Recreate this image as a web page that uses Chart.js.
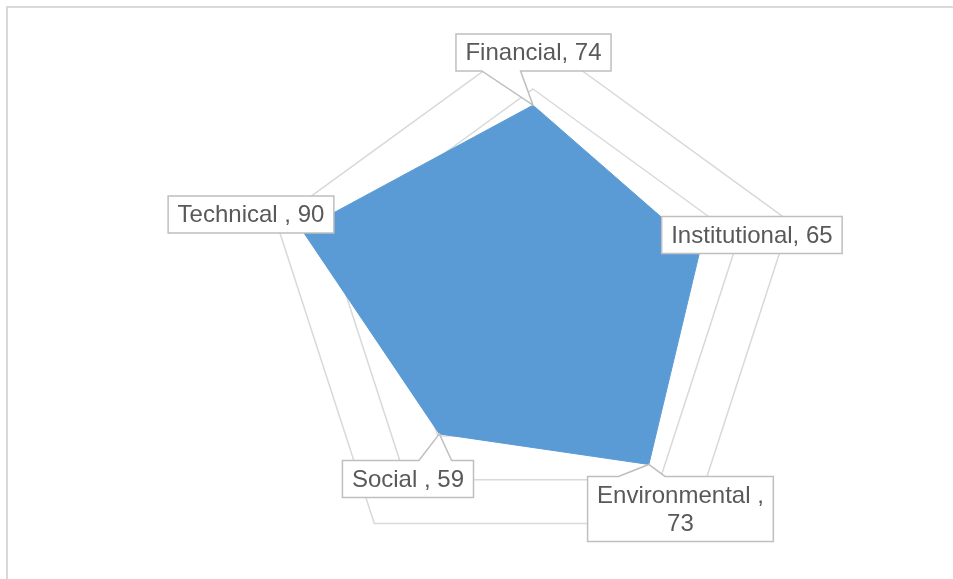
<!DOCTYPE html>
<html>
<head>
<meta charset="utf-8">
<title>Dimension scores</title>
<script src="https://cdn.jsdelivr.net/npm/chart.js@4.4.1/dist/chart.umd.min.js"></script>
<style>
  body { margin: 0; background: #fff; }
  #wrap { position: relative; width: 953px; height: 579px; overflow: hidden; }
  #frame {
    position: absolute; left: 6px; top: 6px; width: 1000px; height: 1000px;
    border-left: 2px solid #d9d9d9; border-top: 2px solid #d9d9d9;
    pointer-events: none;
  }
</style>
</head>
<body>
<div id="wrap">
  <canvas id="radarChart" width="953" height="579"></canvas>
  <div id="frame"></div>
</div>
<script>
// Scores per dimension (category names keep their trailing spaces)
const categories = ['Financial', 'Institutional', 'Environmental ', 'Social ', 'Technical '];
const scores = [74, 65, 73, 59, 90];
const scaleMin = 0;
const scaleMax = 100;
const scaleStep = 20;

// Label box centre relative to its point
const labelOffsets = [[0.5, -52.7], [52, -15.8], [31.6, 44.5], [-31.4, 45.1], [-50.9, -15.4]];

const LABEL_FONT = '24px "Liberation Sans", Arial, sans-serif';
const LINE_H = 28;
const PAD_X = 9.5;

function wrapText(ctx, text, maxWidth) {
    const words = text.split(' ');
    const lines = [];
    let line = '';
    words.forEach(word => {
        const test = line ? line + ' ' + word : word;
        if (line && ctx.measureText(test).width > maxWidth) {
            lines.push(line);
            line = word;
        } else {
            line = test;
        }
    });
    if (line) lines.push(line);
    return lines;
}

// Rectangle with a wedge tail pointing at (px, py), like an Office callout
function drawCallout(ctx, l, t, w, h, px, py) {
    const r = l + w, b = t + h;
    const dx = px - (l + w / 2), dy = py - (t + h / 2);
    ctx.beginPath();
    if (px >= l && px <= r && py >= t && py <= b) {
        ctx.rect(l, t, w, h);
    } else if (Math.abs(dy) >= Math.abs(dx * h / w)) {
        const x1 = l + w * (dx > 0 ? 7 : 2) / 12;
        const x2 = l + w * (dx > 0 ? 10 : 5) / 12;
        ctx.moveTo(l, t);
        if (dy < 0) {
            ctx.lineTo(x1, t); ctx.lineTo(px, py); ctx.lineTo(x2, t);
            ctx.lineTo(r, t); ctx.lineTo(r, b); ctx.lineTo(l, b);
        } else {
            ctx.lineTo(r, t); ctx.lineTo(r, b); ctx.lineTo(x2, b);
            ctx.lineTo(px, py); ctx.lineTo(x1, b); ctx.lineTo(l, b);
        }
    } else {
        const y1 = t + h * (dy > 0 ? 7 : 2) / 12;
        const y2 = t + h * (dy > 0 ? 10 : 5) / 12;
        ctx.moveTo(l, t);
        ctx.lineTo(r, t);
        if (dx > 0) {
            ctx.lineTo(r, y1); ctx.lineTo(px, py); ctx.lineTo(r, y2);
            ctx.lineTo(r, b); ctx.lineTo(l, b);
        } else {
            ctx.lineTo(r, b); ctx.lineTo(l, b); ctx.lineTo(l, y2);
            ctx.lineTo(px, py); ctx.lineTo(l, y1);
        }
    }
    ctx.closePath();
    ctx.fillStyle = '#ffffff';
    ctx.fill();
    ctx.lineWidth = 1.5;
    ctx.strokeStyle = '#bfbfbf';
    ctx.stroke();
}

const calloutLabels = {
    id: 'calloutLabels',
    afterDatasetsDraw(chart) {
        const ctx = chart.ctx;
        const meta = chart.getDatasetMeta(0);
        ctx.save();
        ctx.font = LABEL_FONT;
        meta.data.forEach((pt, i) => {
            const lines = wrapText(ctx, categories[i] + ', ' + scores[i], 180);
            const w = Math.max(...lines.map(s => ctx.measureText(s).width)) + PAD_X * 2;
            const h = lines.length * LINE_H + 9;
            const cx = pt.x + labelOffsets[i][0];
            const cy = pt.y + labelOffsets[i][1];
            const l = cx - w / 2, t = cy - h / 2;
            drawCallout(ctx, l, t, w, h, pt.x, pt.y);
            ctx.fillStyle = '#595959';
            ctx.textAlign = 'center';
            ctx.textBaseline = 'middle';
            lines.forEach((s, k) => ctx.fillText(s, cx, t + 4.5 + LINE_H / 2 + k * LINE_H + 1));
        });
        ctx.restore();
    }
};

new Chart(document.getElementById('radarChart'), {
    type: 'radar',
    data: {
        labels: categories,
        datasets: [{
            data: scores,
            fill: true,
            backgroundColor: '#5b9bd5',
            borderColor: '#5b9bd5',
            borderWidth: 1,
            pointRadius: 0,
            pointHoverRadius: 0
        }]
    },
    options: {
        responsive: false,
        animation: false,
        devicePixelRatio: 1,
        layout: { padding: { top: 35, bottom: 4, left: 203, right: 90 } },
        scales: {
            r: {
                min: scaleMin,
                max: scaleMax,
                ticks: { stepSize: scaleStep, display: false },
                pointLabels: { display: false },
                angleLines: { display: false },
                grid: { color: '#d9d9d9', lineWidth: 1.5 }
            }
        },
        plugins: {
            legend: { display: false },
            tooltip: { enabled: false }
        }
    },
    plugins: [calloutLabels]
});
</script>
</body>
</html>
